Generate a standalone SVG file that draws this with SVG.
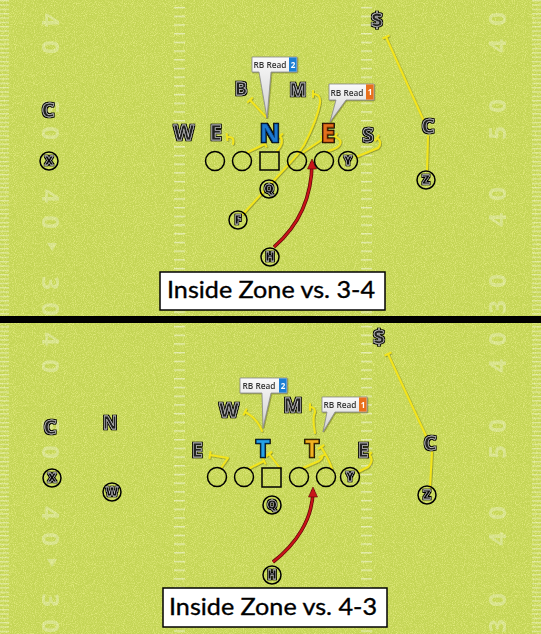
<svg xmlns="http://www.w3.org/2000/svg" width="541" height="634" viewBox="0 0 541 634">
<defs>
<style>
.pl{font-family:"Open Sans","DejaVu Sans",sans-serif;font-weight:700;fill:#222;stroke:#e8e8e8;stroke-width:.45;text-anchor:middle;filter:url(#outl)}
.cl{font-family:"Open Sans","DejaVu Sans",sans-serif;font-weight:800;font-size:12px;fill:#111;stroke:#fff;stroke-width:.3;text-anchor:middle;filter:url(#outl2)}
.ring{fill:none;stroke:#000;stroke-width:1.5}
.sq{fill:none;stroke:#000;stroke-width:1.5}
.rt{fill:none;stroke:#f3e51b;stroke-width:2;stroke-linejoin:round;stroke-linecap:round;marker-end:url(#tee)}
.run{fill:none;stroke:#c8141a;stroke-width:2.2;marker-end:url(#arr)}
.runb{fill:none;stroke:#5a0505;stroke-width:3.6}
.co{fill:url(#cg);stroke:#8a8a8a;stroke-width:.8}
.cot{font-family:"Open Sans","DejaVu Sans",sans-serif;font-weight:600;font-size:8.3px;fill:#333;text-anchor:middle}
.bad{font-family:"Open Sans","DejaVu Sans",sans-serif;font-weight:700;font-size:8px;fill:#fff;text-anchor:middle}
.num{font-family:"Open Sans","DejaVu Sans",sans-serif;font-weight:700;font-size:24px;fill:#fff;opacity:.3;text-anchor:middle}
.yl{stroke:#eef3c4;stroke-width:6;opacity:.7;filter:url(#blur)}
.ttl{font-family:Lato,"Open Sans",sans-serif;font-size:24px;fill:#000;stroke:#000;stroke-width:.35;text-anchor:middle}
</style>
<filter id="outl" x="-30%" y="-30%" width="160%" height="160%">
<feMorphology in="SourceAlpha" operator="dilate" radius="1.1" result="d"/>
<feMerge><feMergeNode in="d"/><feMergeNode in="SourceGraphic"/></feMerge>
</filter>
<filter id="outl2" x="-30%" y="-30%" width="160%" height="160%">
<feMorphology in="SourceAlpha" operator="dilate" radius=".5" result="d"/>
<feMerge><feMergeNode in="d"/><feMergeNode in="SourceGraphic"/></feMerge>
</filter>
<filter id="blur" x="-5%" y="-200%" width="110%" height="500%"><feGaussianBlur stdDeviation="1.4"/></filter>
<filter id="noise" x="0" y="0" width="100%" height="100%">
<feTurbulence type="fractalNoise" baseFrequency="1.1" numOctaves="1" seed="4"/>
<feColorMatrix type="matrix" values="0 0 0 0 0.9  0 0 0 0 0.93  0 0 0 0 0.3  0 0 0 2.6 -1.15"/>
</filter>
<filter id="sh" x="-10%" y="-10%" width="120%" height="120%">
<feDropShadow dx=".7" dy=".7" stdDeviation=".5" flood-color="#4a4a00" flood-opacity=".55"/>
</filter>
<linearGradient id="cg" x1="0" y1="0" x2="0" y2="1">
<stop offset="0" stop-color="#fafafa"/><stop offset="1" stop-color="#cfcfcf"/>
</linearGradient>
<pattern id="tick" width="12" height="8.7" patternUnits="userSpaceOnUse" y="33">
<rect x="0" y="0" width="12" height="1.4" fill="#fff" opacity=".5"/>
</pattern>
<pattern id="tick2" width="12" height="8.7" patternUnits="userSpaceOnUse" y="352">
<rect x="0" y="0" width="12" height="1.4" fill="#fff" opacity=".5"/>
</pattern>
<pattern id="side" width="10" height="4.35" patternUnits="userSpaceOnUse">
<rect x="0" y="0" width="10" height="1.3" fill="#fff" opacity=".4"/>
</pattern>
<marker id="tee" markerUnits="userSpaceOnUse" markerWidth="10" markerHeight="10" refX="2" refY="5" orient="auto" overflow="visible">
<path d="M2,1.2 V8.8" stroke="#f3e51b" stroke-width="2"/>
</marker>
<marker id="arr" markerUnits="userSpaceOnUse" markerWidth="12" markerHeight="12" refX="7" refY="6" orient="auto" overflow="visible">
<path d="M0,1.5 L10,6 L0,10.5 Z" fill="#c8141a" stroke="#5a0505" stroke-width=".6"/>
</marker>
</defs>

<!-- field -->
<rect x="0" y="0" width="541" height="634" fill="#c4d556"/>
<rect x="0" y="0" width="541" height="634" filter="url(#noise)" opacity=".7"/>
<g id="yardlines">
<line class="yl" x1="0" y1="33" x2="541" y2="33"/>
<line class="yl" x1="0" y1="76.5" x2="541" y2="76.5"/>
<line class="yl" x1="0" y1="120" x2="541" y2="120"/>
<line class="yl" x1="0" y1="164" x2="541" y2="164"/>
<line class="yl" x1="0" y1="209" x2="541" y2="209"/>
<line class="yl" x1="0" y1="252" x2="541" y2="252"/>
<line class="yl" x1="0" y1="295" x2="541" y2="295"/>
<line class="yl" x1="0" y1="352" x2="541" y2="352"/>
<line class="yl" x1="0" y1="395" x2="541" y2="395"/>
<line class="yl" x1="0" y1="438" x2="541" y2="438"/>
<line class="yl" x1="0" y1="482" x2="541" y2="482"/>
<line class="yl" x1="0" y1="526" x2="541" y2="526"/>
<line class="yl" x1="0" y1="569" x2="541" y2="569"/>
<line class="yl" x1="0" y1="612" x2="541" y2="612"/>
</g>
<g id="hashes">
<rect x="0" y="0" width="9" height="316" fill="url(#side)"/>
<rect x="532" y="0" width="9" height="316" fill="url(#side)"/>
<rect x="0" y="323" width="9" height="311" fill="url(#side)"/>
<rect x="532" y="323" width="9" height="311" fill="url(#side)"/>
<rect x="174" y="0" width="11" height="316" fill="url(#tick)"/>
<rect x="361" y="0" width="11" height="316" fill="url(#tick)"/>
<rect x="174" y="323" width="11" height="311" fill="url(#tick2)"/>
<rect x="361" y="323" width="11" height="311" fill="url(#tick2)"/>
</g>
<g id="numbers">
<text class="num" transform="translate(50,20) rotate(90)" dy="8.5">4</text>
<text class="num" transform="translate(50,47) rotate(90)" dy="8.5">0</text>
<text class="num" transform="translate(50,107) rotate(90)" dy="8.5">5</text>
<text class="num" transform="translate(50,133) rotate(90)" dy="8.5">0</text>
<text class="num" transform="translate(50,196) rotate(90)" dy="8.5">4</text>
<text class="num" transform="translate(50,222) rotate(90)" dy="8.5">0</text>
<text class="num" transform="translate(50,283) rotate(90)" dy="8.5">3</text>
<text class="num" transform="translate(50,309) rotate(90)" dy="8.5">0</text>
<text class="num" transform="translate(50,339) rotate(90)" dy="8.5">4</text>
<text class="num" transform="translate(50,366) rotate(90)" dy="8.5">0</text>
<text class="num" transform="translate(50,426) rotate(90)" dy="8.5">5</text>
<text class="num" transform="translate(50,452) rotate(90)" dy="8.5">0</text>
<text class="num" transform="translate(50,513) rotate(90)" dy="8.5">4</text>
<text class="num" transform="translate(50,539) rotate(90)" dy="8.5">0</text>
<text class="num" transform="translate(50,600) rotate(90)" dy="8.5">3</text>
<text class="num" transform="translate(50,626) rotate(90)" dy="8.5">0</text>
<text class="num" transform="translate(497,19) rotate(-90)" dy="8.5">0</text>
<text class="num" transform="translate(497,46) rotate(-90)" dy="8.5">4</text>
<text class="num" transform="translate(497,106) rotate(-90)" dy="8.5">0</text>
<text class="num" transform="translate(497,133) rotate(-90)" dy="8.5">5</text>
<text class="num" transform="translate(497,194) rotate(-90)" dy="8.5">0</text>
<text class="num" transform="translate(497,220) rotate(-90)" dy="8.5">4</text>
<text class="num" transform="translate(497,281) rotate(-90)" dy="8.5">0</text>
<text class="num" transform="translate(497,307) rotate(-90)" dy="8.5">3</text>
<text class="num" transform="translate(497,339) rotate(-90)" dy="8.5">0</text>
<text class="num" transform="translate(497,366) rotate(-90)" dy="8.5">4</text>
<text class="num" transform="translate(497,426) rotate(-90)" dy="8.5">0</text>
<text class="num" transform="translate(497,452) rotate(-90)" dy="8.5">5</text>
<text class="num" transform="translate(497,513) rotate(-90)" dy="8.5">0</text>
<text class="num" transform="translate(497,539) rotate(-90)" dy="8.5">4</text>
<text class="num" transform="translate(497,600) rotate(-90)" dy="8.5">0</text>
<text class="num" transform="translate(497,626) rotate(-90)" dy="8.5">3</text>
<path d="M47,243 L57,243 L52,251 Z" fill="#fff" opacity=".3"/>
<path d="M47,559 L57,559 L52,567 Z" fill="#fff" opacity=".3"/>
</g>

<!-- separator -->
<rect x="0" y="316" width="541" height="7" fill="#000"/>

<!-- connectors -->
<g id="connectors">
<g filter="url(#sh)">
<path class="rt" d="M233,144 Q235,136 227,137"/>
<path class="rt" d="M248,152 L265,144"/>
<path class="rt" d="M277,151 Q285,142 280,136"/>
<path class="rt" d="M266,117 L250,100"/>
<path class="rt" d="M243,214 L289,164 Q298,155 304,145 Q317,120 320,103 Q321,94 313,94"/>
<path class="rt" d="M302,153 L323,139"/>
<path class="rt" d="M328,151 Q343,147 340,140 L335,136"/>
<path class="rt" d="M356,157 L378,148 Q383,142 377,138"/>
<path class="rt" d="M427,170 L428,136 M423,119 L386,37"/>
<path class="rt" d="M221,468 L228,458 L210,455"/>
<path class="rt" d="M250,468 L264,461"/>
<path class="rt" d="M280,468 L269,454"/>
<path class="rt" d="M262,431 Q257,418 245,412"/>
<path class="rt" d="M303,468 L319,461 Q323,458 322,456"/>
<path class="rt" d="M332,469 Q329,459 321,447"/>
<path class="rt" d="M315,433 Q312,418 315,412 Q315,407 310,407"/>
<path class="rt" d="M358,472 L368,467 Q373,462 371,457 L369,455"/>
<path class="rt" d="M430,487 L432,452 M426,436 L388,354"/>
</g>
<path class="runb" d="M274,247 C296,228 312,200 312,162"/>
<path class="run" d="M274,247 C296,228 312,200 312,162"/>
<path class="runb" d="M273,562 C295,545 313,520 313,490"/>
<path class="run" d="M273,562 C295,545 313,520 313,490"/>
</g>

<!-- callouts -->
<g id="callout-top-2" filter="url(#sh)">
<path class="co" d="M252,57 H297 V72 H271 L267,118 L259,72 H252 Z"/>
<rect x="289" y="57.4" width="7.6" height="14.2" fill="#1a7fd4"/>
<text class="cot" x="270" y="68">RB Read</text>
<text class="bad" x="293" y="67.8">2</text>
</g>
<g id="callout-top-1" filter="url(#sh)">
<path class="co" d="M329,84 H374 V100 H346 L330,122 L336,100 H329 Z"/>
<rect x="366" y="84.4" width="7.6" height="15.2" fill="#e8701c"/>
<text class="cot" x="347" y="95.5">RB Read</text>
<text class="bad" x="370" y="95.3">1</text>
</g>
<g id="callout-bot-2" filter="url(#sh)">
<path class="co" d="M240,378 H287 V393 H271 L263,428 L262,393 H240 Z"/>
<rect x="279" y="378.4" width="7.6" height="14.2" fill="#1a7fd4"/>
<text class="cot" x="259" y="389">RB Read</text>
<text class="bad" x="283" y="388.8">2</text>
</g>
<g id="callout-bot-1" filter="url(#sh)">
<path class="co" d="M322,397 H367 V412 H335 L323,432 L327,412 H322 Z"/>
<rect x="359" y="397.4" width="7.6" height="14.2" fill="#e8701c"/>
<text class="cot" x="340" y="408">RB Read</text>
<text class="bad" x="363" y="407.8">1</text>
</g>

<!-- TOP: defense -->
<g id="t-C-left"><text class="pl" x="48" y="117" font-size="20">C</text></g>
<g id="t-W"><text class="pl" x="184" y="140" font-size="21">W</text></g>
<g id="t-E-left"><text class="pl" x="216" y="140" font-size="21">E</text></g>
<g id="t-N"><text class="pl" x="270" y="142" font-size="25" style="fill:#1b78cf;stroke:#0b3f78;stroke-width:.6">N</text></g>
<g id="t-E-right"><text class="pl" x="328" y="142" font-size="25" style="fill:#e3701c;stroke:#7a3300;stroke-width:.6">E</text></g>
<g id="t-S"><text class="pl" x="368" y="142" font-size="20">S</text></g>
<g id="t-B"><text class="pl" x="241" y="95" font-size="18">B</text></g>
<g id="t-M"><text class="pl" x="298" y="96" font-size="18">M</text></g>
<g id="t-dollar"><text class="pl" x="377" y="27" font-size="20">$</text></g>
<g id="t-C-right"><text class="pl" x="428" y="133" font-size="20">C</text></g>

<!-- TOP: offense -->
<g id="t-X"><circle class="ring" cx="49" cy="161" r="9"/><text class="cl" x="49" y="165.3">X</text></g>
<g id="t-LT"><circle class="ring" cx="215" cy="161" r="9.5"/></g>
<g id="t-LG"><circle class="ring" cx="242" cy="161" r="9.5"/></g>
<g id="t-Ctr"><rect class="sq" x="260" y="152" width="19" height="18"/></g>
<g id="t-RG"><circle class="ring" cx="297" cy="161" r="9.5"/></g>
<g id="t-RT"><circle class="ring" cx="324" cy="161" r="9.5"/></g>
<g id="t-Y"><circle class="ring" cx="348" cy="161" r="9.5"/><text class="cl" x="348" y="165.3">Y</text></g>
<g id="t-Q"><circle class="ring" cx="269" cy="189" r="9"/><text class="cl" x="269" y="193.3">Q</text></g>
<g id="t-F"><circle class="ring" cx="238" cy="220" r="9"/><text class="cl" x="238" y="224.3">F</text></g>
<g id="t-H"><circle class="ring" cx="270" cy="257" r="9"/><text class="cl" x="270" y="261.3">H</text></g>
<g id="t-Z"><circle class="ring" cx="426" cy="180" r="9"/><text class="cl" x="426" y="184.3">Z</text></g>

<!-- BOTTOM: defense -->
<g id="b-C-left"><text class="pl" x="50" y="434" font-size="20">C</text></g>
<g id="b-N-left"><text class="pl" x="110" y="429" font-size="18">N</text></g>
<g id="b-W"><text class="pl" x="229" y="417" font-size="20">W</text></g>
<g id="b-M"><text class="pl" x="293" y="412" font-size="20">M</text></g>
<g id="b-E-left"><text class="pl" x="197" y="457" font-size="20">E</text></g>
<g id="b-T-left"><text class="pl" x="263" y="457" font-size="24" style="fill:#27a3e8;stroke:#0d4f80;stroke-width:.6">T</text></g>
<g id="b-T-right"><text class="pl" x="312" y="457" font-size="24" style="fill:#f2b320;stroke:#7a5200;stroke-width:.6">T</text></g>
<g id="b-E-right"><text class="pl" x="363" y="457" font-size="20">E</text></g>
<g id="b-dollar"><text class="pl" x="379" y="344" font-size="20">$</text></g>
<g id="b-C-right"><text class="pl" x="430" y="450" font-size="20">C</text></g>

<!-- BOTTOM: offense -->
<g id="b-X"><circle class="ring" cx="52" cy="478" r="9"/><text class="cl" x="52" y="482.3">X</text></g>
<g id="b-Wr"><circle class="ring" cx="112" cy="492" r="9"/><text class="cl" x="112" y="496.3">W</text></g>
<g id="b-LT"><circle class="ring" cx="217" cy="477" r="9.5"/></g>
<g id="b-LG"><circle class="ring" cx="244" cy="477" r="9.5"/></g>
<g id="b-Ctr"><rect class="sq" x="262" y="468" width="19" height="19"/></g>
<g id="b-RG"><circle class="ring" cx="299" cy="477" r="9.5"/></g>
<g id="b-RT"><circle class="ring" cx="326" cy="477" r="9.5"/></g>
<g id="b-Y"><circle class="ring" cx="350" cy="477" r="9.5"/><text class="cl" x="350" y="481.3">Y</text></g>
<g id="b-Q"><circle class="ring" cx="272" cy="505" r="9"/><text class="cl" x="272" y="509.3">Q</text></g>
<g id="b-H"><circle class="ring" cx="272" cy="575" r="9"/><text class="cl" x="272" y="579.3">H</text></g>
<g id="b-Z"><circle class="ring" cx="427" cy="495" r="9"/><text class="cl" x="427" y="499.3">Z</text></g>

<!-- titles -->
<g id="title-top">
<rect x="160" y="272" width="225" height="38" fill="#fff" stroke="#000" stroke-width="1.5"/>
<text class="ttl" x="271" y="298" textLength="208" lengthAdjust="spacingAndGlyphs">Inside Zone vs. 3-4</text>
</g>
<g id="title-bottom">
<rect x="163" y="588" width="224" height="39" fill="#fff" stroke="#000" stroke-width="1.5"/>
<text class="ttl" x="273" y="615" textLength="208" lengthAdjust="spacingAndGlyphs">Inside Zone vs. 4-3</text>
</g>
</svg>
